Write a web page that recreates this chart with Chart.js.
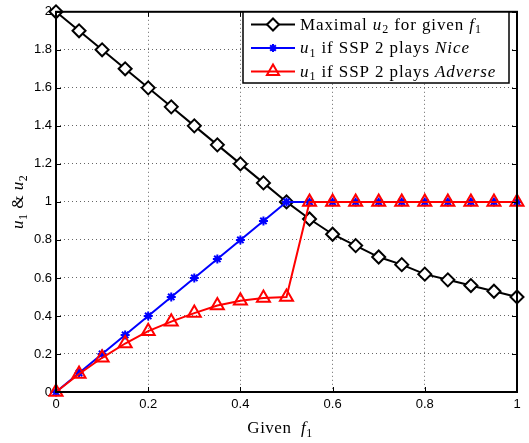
<!DOCTYPE html>
<html>
<head>
<meta charset="utf-8">
<script src="https://cdn.jsdelivr.net/npm/chart.js@4/dist/chart.umd.min.js"></script>
<style>
  html, body { margin: 0; background: #fff; }
</style>
</head>
<body>
<canvas id="chart" width="529" height="443"></canvas>
<script>
const fGiven = [0, 0.05, 0.1, 0.15, 0.2, 0.25, 0.3, 0.35, 0.4, 0.45, 0.5,
                0.55, 0.6, 0.65, 0.7, 0.75, 0.8, 0.85, 0.9, 0.95, 1];
const maxU2 = [2, 1.9, 1.8, 1.7, 1.6, 1.5, 1.4, 1.3, 1.2, 1.1, 1.0,
               0.91, 0.83, 0.77, 0.71, 0.67, 0.62, 0.59, 0.56, 0.53, 0.5];
const u1Nice = [0, 0.1, 0.2, 0.3, 0.4, 0.5, 0.6, 0.7, 0.8, 0.9, 1.0,
                1, 1, 1, 1, 1, 1, 1, 1, 1, 1];
const u1Adverse = [0, 0.095, 0.18, 0.255, 0.32, 0.37, 0.415, 0.455, 0.48, 0.495, 0.5,
                   1, 1, 1, 1, 1, 1, 1, 1, 1, 1];

const xTicks = [0, 0.2, 0.4, 0.6, 0.8, 1];
const yTicks = [0, 0.2, 0.4, 0.6, 0.8, 1, 1.2, 1.4, 1.6, 1.8, 2];

const SERIF = '"Liberation Serif", "Times New Roman", serif';
const SANS = '"Liberation Sans", Arial, sans-serif';

const points = ys => fGiven.map((x, i) => ({ x, y: ys[i] }));

/* ---------- Rich text (italic + subscripts) ---------- */

function drawRich(ctx, parts, x, y, size, align, spacing) {
  const fontFor = k => k === 's'
    ? `${Math.round(size * 0.7)}px ${SERIF}`
    : `${k === 'i' ? 'italic ' : ''}${size}px ${SERIF}`;
  ctx.letterSpacing = (spacing || 0) + 'px';
  let w = 0;
  parts.forEach(([t, k]) => { ctx.font = fontFor(k); w += ctx.measureText(t).width; });
  let cx = align === 'center' ? x - w / 2 : x;
  ctx.textAlign = 'left';
  ctx.textBaseline = 'alphabetic';
  parts.forEach(([t, k]) => {
    ctx.font = fontFor(k);
    ctx.fillText(t, cx, k === 's' ? y + size * 0.22 : y);
    cx += ctx.measureText(t).width;
  });
  ctx.letterSpacing = '0px';
}

const series = [
  { label: [['Maximal ', ''], ['u', 'i'], ['2', 's'], [' for given ', ''], ['f', 'i'], ['1', 's']],
    color: '#000', style: 'rectRot', radius: 6, fill: '#fff' },
  { label: [['u', 'i'], ['1', 's'], [' if SSP 2 plays ', ''], ['Nice', 'i']],
    color: '#0000ff', style: 'star', radius: 4, fill: '#0000ff' },
  { label: [['u', 'i'], ['1', 's'], [' if SSP 2 plays ', ''], ['Adverse', 'i']],
    color: '#ff0000', style: 'triangle', radius: 7, fill: 'rgba(0,0,0,0)' }
];

/* ---------- Frame, inner ticks, titles, legend ---------- */

const decorations = {
  id: 'decorations',
  afterDatasetsDraw(chart) {
    const { ctx, chartArea: a, scales } = chart;
    ctx.save();
    ctx.strokeStyle = '#000';

    // inner tick marks on all four sides
    ctx.lineWidth = 1;
    ctx.beginPath();
    xTicks.forEach(v => {
      const px = Math.round(scales.x.getPixelForValue(v)) + 0.5;
      ctx.moveTo(px, a.bottom); ctx.lineTo(px, a.bottom - 5);
      ctx.moveTo(px, a.top); ctx.lineTo(px, a.top + 5);
    });
    yTicks.forEach(v => {
      const py = Math.round(scales.y.getPixelForValue(v)) + 0.5;
      ctx.moveTo(a.left, py); ctx.lineTo(a.left + 5, py);
      ctx.moveTo(a.right, py); ctx.lineTo(a.right - 5, py);
    });
    ctx.stroke();

    // box around the axes
    ctx.lineWidth = 2;
    ctx.strokeRect(a.left, a.top, a.right - a.left, a.bottom - a.top);

    // axis titles
    ctx.fillStyle = '#000';
    drawRich(ctx, [['Given  ', ''], ['f', 'i'], ['1', 's']], 280, 433, 17, 'center', 0.5);
    ctx.save();
    ctx.translate(23, (a.top + a.bottom) / 2);
    ctx.rotate(-Math.PI / 2);
    drawRich(ctx, [['u', 'i'], ['1', 's'], [' & ', ''], ['u', 'i'], ['2', 's']], 0, 0, 17, 'center', 0.5);
    ctx.restore();

    // legend
    const box = { x: 243, y: 12, w: 266, h: 71 };
    ctx.fillStyle = '#fff';
    ctx.fillRect(box.x, box.y, box.w, box.h);
    ctx.lineWidth = 1.5;
    ctx.strokeRect(box.x, box.y, box.w, box.h);
    series.forEach((s, i) => {
      const cy = 24.5 + i * 23.5;
      ctx.strokeStyle = s.color;
      ctx.lineWidth = 2;
      ctx.beginPath();
      ctx.moveTo(251, cy); ctx.lineTo(295, cy);
      ctx.stroke();
      ctx.fillStyle = s.fill;
      Chart.helpers.drawPoint(ctx, { pointStyle: s.style, radius: s.radius, borderWidth: 2 }, 273, cy);
      ctx.fillStyle = '#000';
      drawRich(ctx, s.label, 300, cy + 5, 17, 'left', 0.9);
    });
    ctx.restore();
  }
};

/* ---------- Chart ---------- */

const tickFmt = v => String(Number(v.toFixed(1)));
const gridStyle = { color: 'rgba(0,0,0,0.6)', lineWidth: 1, drawTicks: false };

new Chart(document.getElementById('chart'), {
  type: 'line',
  data: {
    datasets: [
      {
        data: points(maxU2), order: 3,
        borderColor: '#000', backgroundColor: '#fff', borderWidth: 2,
        pointStyle: 'rectRot', pointRadius: 6.5, pointBorderWidth: 2, pointBorderColor: '#000'
      },
      {
        data: points(u1Nice), order: 2,
        borderColor: '#0000ff', backgroundColor: '#0000ff', borderWidth: 2,
        pointStyle: 'star', pointRadius: 4.5, pointBorderWidth: 2, pointBorderColor: '#0000ff'
      },
      {
        data: points(u1Adverse), order: 1,
        borderColor: '#ff0000', backgroundColor: 'rgba(0,0,0,0)', borderWidth: 2,
        pointStyle: 'triangle', pointRadius: 7.5, pointBorderWidth: 2, pointBorderColor: '#ff0000'
      }
    ]
  },
  options: {
    responsive: false,
    animation: false,
    devicePixelRatio: 1,
    layout: { padding: { top: 5, right: 12, left: 0, bottom: 0 } },
    plugins: { legend: { display: false }, tooltip: { enabled: false } },
    elements: { line: { tension: 0 } },
    datasets: { line: { clip: false } },
    scales: {
      x: {
        type: 'linear', min: 0, max: 1,
        afterBuildTicks: s => { s.ticks = xTicks.map(v => ({ value: v })); },
        afterFit: s => { s.height = 51; },
        border: { display: false, dash: [1, 3] },
        grid: gridStyle,
        ticks: { color: '#000', font: { family: SANS, size: 13 }, padding: 5, maxRotation: 0, callback: tickFmt }
      },
      y: {
        type: 'linear', min: 0, max: 2,
        afterBuildTicks: s => { s.ticks = yTicks.map(v => ({ value: v })); },
        afterFit: s => { s.width = 56; },
        border: { display: false, dash: [1, 3] },
        grid: gridStyle,
        ticks: { color: '#000', font: { family: SANS, size: 13 }, padding: 4, callback: tickFmt }
      }
    }
  },
  plugins: [decorations]
});
</script>
</body>
</html>
